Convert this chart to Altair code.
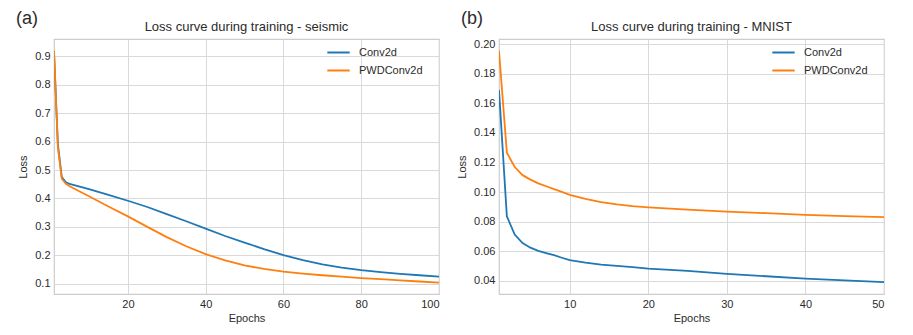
import altair as alt
import pandas as pd

# ---- data ----
series = ["Conv2d", "PWDConv2d"]
colors = ["#1f77b4", "#ff7f0e"]

epochs_a = [1, 2, 3, 4, 5, 10, 15, 20, 25, 30, 35, 40, 45, 50, 55, 60, 65, 70, 75, 80, 85, 90, 95, 100]
conv_a = [0.915, 0.59, 0.475, 0.458, 0.451, 0.433, 0.413, 0.392, 0.370, 0.345, 0.320, 0.294,
          0.268, 0.245, 0.222, 0.201, 0.183, 0.168, 0.157, 0.148, 0.141, 0.135, 0.130, 0.125]
pwd_a = [0.92, 0.58, 0.47, 0.452, 0.443, 0.408, 0.372, 0.337, 0.300, 0.264, 0.232, 0.204,
         0.182, 0.165, 0.152, 0.143, 0.136, 0.130, 0.125, 0.120, 0.116, 0.112, 0.108, 0.104]

epochs_b = [1, 2, 3, 4, 5, 6, 7, 8, 9, 10, 12, 14, 16, 18, 20, 25, 30, 35, 40, 45, 50]
conv_b = [0.169, 0.0837, 0.0714, 0.0656, 0.0625, 0.0603, 0.0588, 0.0574, 0.0557, 0.0541, 0.0524,
          0.0511, 0.0502, 0.0493, 0.0484, 0.0468, 0.0448, 0.0432, 0.0416, 0.0404, 0.0392]
pwd_b = [0.1955, 0.1267, 0.117, 0.1115, 0.1085, 0.106, 0.104, 0.1021, 0.1002, 0.0982, 0.0955,
         0.0933, 0.0917, 0.0906, 0.0898, 0.0882, 0.0869, 0.0858, 0.0846, 0.0838, 0.0832]

xticks_a = [20, 40, 60, 80, 100]
yticks_a = [0.1, 0.2, 0.3, 0.4, 0.5, 0.6, 0.7, 0.8, 0.9]
xticks_b = [10, 20, 30, 40, 50]
yticks_b = [0.04, 0.06, 0.08, 0.10, 0.12, 0.14, 0.16, 0.18, 0.20]

FONT = "Liberation Sans"
TXT = "#2b2b2b"
W, H = 385, 255


def long_df(epochs, a, b):
    rows = []
    for s, vals in zip(series, [a, b]):
        for e, v in zip(epochs, vals):
            rows.append({"Epochs": e, "Loss": v, "Model": s})
    return pd.DataFrame(rows)


def panel(df, label, title, xdom, xticks, ydom, yticks, yfmt):
    lines = alt.Chart(df).mark_line(strokeWidth=1.8, clip=True).encode(
        x=alt.X("Epochs:Q", scale=alt.Scale(domain=xdom, nice=False, zero=False),
                axis=alt.Axis(values=xticks, format="d", title="Epochs")),
        y=alt.Y("Loss:Q", scale=alt.Scale(domain=ydom, nice=False, zero=False),
                axis=alt.Axis(values=yticks, format=yfmt, title="Loss")),
        color=alt.Color("Model:N", scale=alt.Scale(domain=series, range=colors),
                        legend=alt.Legend(title=None, orient="none", legendX=272, legendY=1,
                                          symbolType="stroke", symbolStrokeWidth=2,
                                          symbolSize=500, labelOffset=8, rowPadding=-7,
                                          labelFont=FONT, labelFontSize=11, labelColor=TXT)),
        order=alt.Order("Epochs:Q"),
    )
    tag = alt.Chart(pd.DataFrame({"t": [label]})).mark_text(
        align="left", baseline="top", fontSize=18, font=FONT, color=TXT
    ).encode(text="t:N", x=alt.value(-38), y=alt.value(-29))
    head = alt.Chart(pd.DataFrame({"t": [title]})).mark_text(
        align="center", baseline="alphabetic", fontSize=13, font=FONT, color=TXT
    ).encode(text="t:N", x=alt.value(W / 2), y=alt.value(-8))
    return alt.layer(lines, tag, head).properties(width=W, height=H)


left = panel(long_df(epochs_a, conv_a, pwd_a), "(a)", "Loss curve during training - seismic",
             [1, 100], xticks_a, [0.064, 0.961], yticks_a, ".1f")
right = panel(long_df(epochs_b, conv_b, pwd_b), "(b)", "Loss curve during training - MNIST",
              [1, 50], xticks_b, [0.0312, 0.2035], yticks_b, ".2f")

chart = alt.hconcat(left, right, spacing=15).resolve_legend(color="independent").properties(
    padding={"left": 7, "top": 1, "right": 5, "bottom": 5},
    background="white",
).configure_axis(
    labelFont=FONT, labelFontSize=11, labelColor=TXT, titleFont=FONT, titleFontSize=11,
    titleFontWeight="normal", titleColor=TXT, ticks=False, domain=False,
    gridColor="#d9d9d9", gridWidth=1, labelPadding=4,
).configure_axisY(titlePadding=6).configure_axisX(titlePadding=3).configure_view(
    stroke="#cccccc", strokeWidth=1.2
)

chart.save("out.html", embed_options={"renderer": "svg", "actions": False})
